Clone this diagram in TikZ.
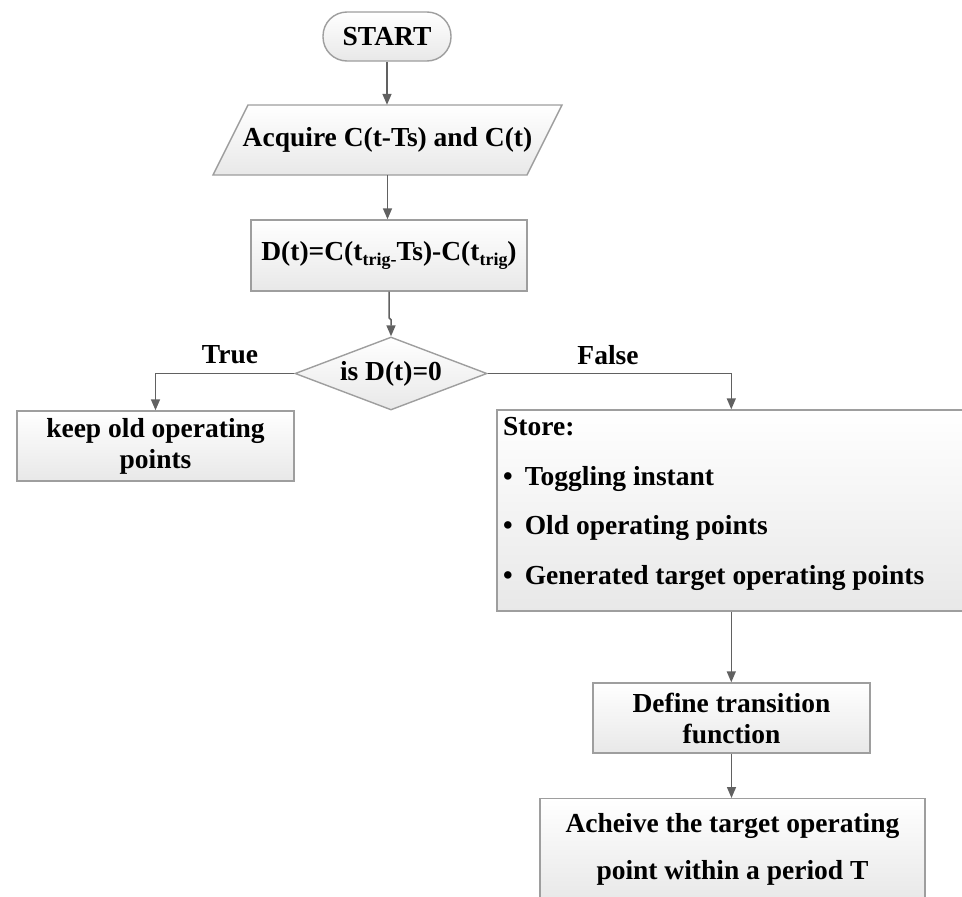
\documentclass[tikz,border=0pt]{standalone}
\usepackage{fontspec}
\setmainfont{Liberation Serif}
\usetikzlibrary{shapes.geometric,arrows.meta,calc}
\newcommand\subtxt[1]{\raisebox{-5pt}{\fontsize{18}{18}\selectfont #1}}
\begin{document}
\begin{tikzpicture}[x=1pt,y=-1pt,
  every node/.style={font=\bfseries\fontsize{27.5}{31}\selectfont},
  boxfill/.style={top color=white,bottom color=black!9,draw=black!38,line width=1.4pt},
  procbox/.style={boxfill,rectangle,inner sep=0pt,align=center},
  conn/.style={draw=black!62,line width=1.5pt,-{Triangle[length=11pt,width=9pt]}},
  lbl/.style={inner sep=0pt}
]
\path[use as bounding box] (0,0) rectangle (962,897);
\clip (0,0) rectangle (962,897);

% START
\node[procbox, rounded corners=24pt, minimum width=128pt, minimum height=49pt] (start) at (387,36.5) {START};

% Acquire (parallelogram)
\coordinate (acqc) at (387.5,140);
\path[boxfill] ($(acqc)+(-174.5,35)$) -- ($(acqc)+(139.5,35)$) -- ($(acqc)+(174.5,-35)$) -- ($(acqc)+(-139.5,-35)$) -- cycle;
\node[inner sep=0pt, minimum width=300pt, minimum height=70pt] (acq) at (acqc) {Acquire C(t-Ts) and C(t)};

% D(t)
\node[procbox, minimum width=276pt, minimum height=71pt] (dbox) at (389,255.5) {D(t)=C(t\subtxt{trig-}Ts)-C(t\subtxt{trig})};

% Decision
\node[boxfill, diamond, shape aspect=2.63, inner sep=0pt, minimum width=192pt, minimum height=73pt] (dec) at (391,373.5) {is D(t)=0};

% Keep
\node[procbox, minimum width=277pt, minimum height=70pt] (keep) at (155.5,446) {keep old operating\\points};

% Store (extends past the right edge)
\node[boxfill, rectangle, inner sep=0pt, minimum width=490pt, minimum height=201pt] (store) at (742,510.5) {};
\coordinate (storein) at ($(store.north west)+(235,0)$);
\coordinate (storeout) at ($(store.south west)+(235,0)$);
\node[anchor=north west, inner sep=0pt, align=left, font=\bfseries\fontsize{27.5}{49.5}\selectfont] (storetxt) at (503,417.5)
  {Store:\\\textbullet\hspace{12pt}Toggling instant\\\textbullet\hspace{12pt}Old operating points\\\textbullet\hspace{12pt}Generated target operating points};

% Define
\node[procbox, minimum width=277pt, minimum height=70pt] (def) at (731.5,718) {Define transition\\function};

% Final
\node[procbox, anchor=north, minimum width=385pt, minimum height=102pt, font=\bfseries\fontsize{27.5}{47}\selectfont] (final) at (732.5,798) {Acheive the target operating\\point within a period T};

% Labels
\node[lbl] (true) at (230,355) {True};
\node[lbl] (false) at (608,355) {False};

% Connectors
\draw[conn] (start.south) -- (start.south |- acq.north);
\draw[conn] (acq.south) -- (acq.south |- dbox.north);
\draw[conn] (dbox.south) -- ++(0,26) -- ++(2,2) -- (dec.north);
\draw[conn] (dec.west) -| (keep.north);
\draw[conn] (dec.east) -| (storein);
\draw[conn] (storeout) -- (storeout |- def.north);
\draw[conn] (def.south) -- (def.south |- final.north);
\end{tikzpicture}
\end{document}
